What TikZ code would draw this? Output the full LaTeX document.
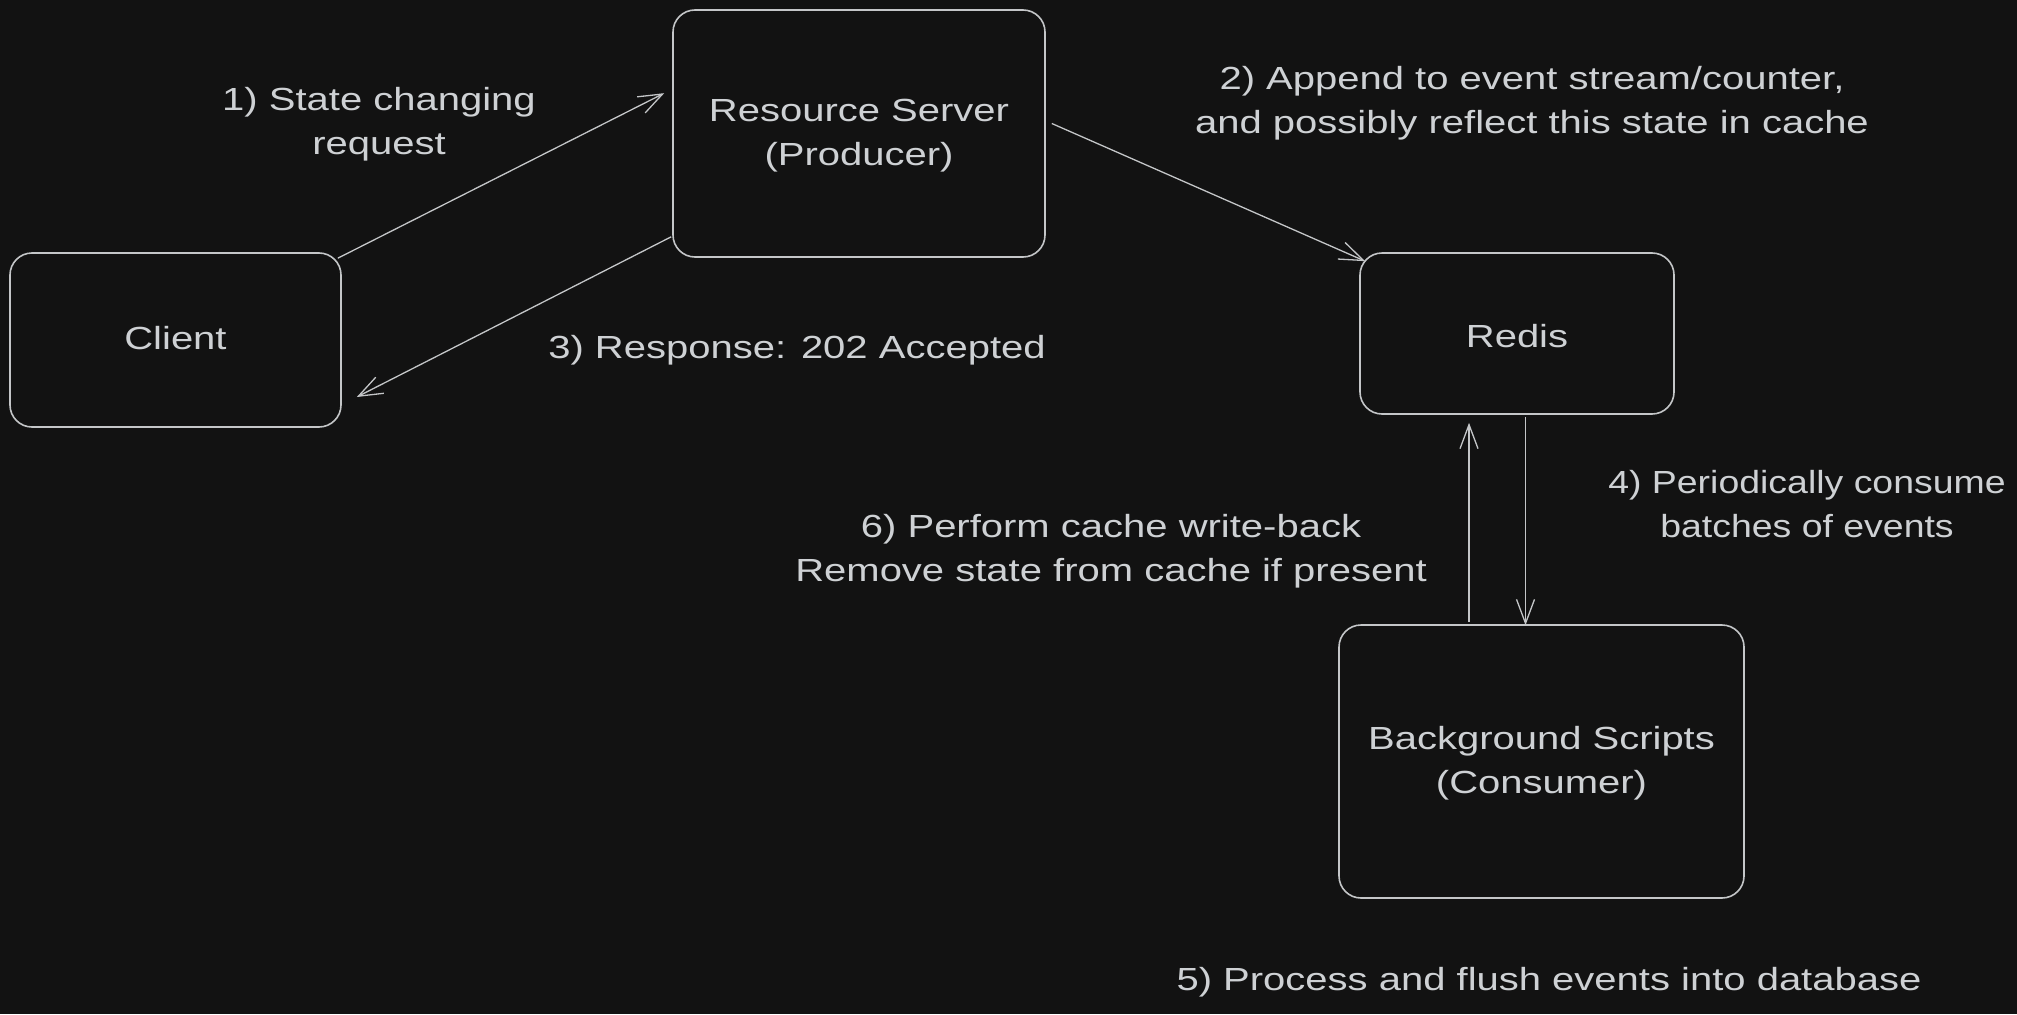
\documentclass[tikz,border=0pt]{standalone}
\usepackage{fontspec}
\setmainfont{Liberation Sans}[FakeStretch=1.25]
\newfontfamily\narrowfont{Liberation Sans}[FakeStretch=1.17]
\usetikzlibrary{arrows.meta,calc}
\definecolor{bgc}{RGB}{18,18,18}
\definecolor{fg}{RGB}{206,209,212}
\definecolor{ln}{RGB}{196,198,200}
\tikzset{
  box/.style={draw=ln, line width=1.6pt, rounded corners=22pt, fill=bgc, inner sep=0pt},
  lbl/.style={text=fg, align=center, inner sep=0pt, font=\fontsize{32pt}{44pt}\selectfont},
  conn/.style={draw=ln, line width=1.3pt, -{Straight Barb[length=24pt,width=18pt,line width=1.3pt]}}
}
\begin{document}
\begin{tikzpicture}[x=1pt,y=-1pt]
\fill[bgc] (0,0) rectangle (2017,1014);
\useasboundingbox (0,0) rectangle (2017,1014);
% boxes
\node[box, minimum width=331pt, minimum height=174pt] (client) at (175.5,340) {};
\node[box, minimum width=372pt, minimum height=247pt] (rs) at (859,133.5) {};
\node[box, minimum width=314pt, minimum height=161pt] (redis) at (1517,333.5) {};
\node[box, minimum width=405pt, minimum height=273pt] (bg) at (1541.5,761.5) {};
% box texts
\node[lbl] (clientt) at (175.5,338) {Client};
\node[lbl] (rst) at (859,136) {Resource Server\\(Producer)};
\node[lbl] (redist) at (1517,336) {Redis};
\node[lbl] (bgt) at (1541.5,763) {Background Scripts\\(Consumer)};
% connectors
\draw[conn] ($(client.north east)+(-4,6)$) coordinate (a1s) -- ($(rs.north west)+(-8,84)$) coordinate (a1e);
\draw[conn] ($(rs.south west)+(-1,-21)$) coordinate (a3s) -- ($(client.east)+(15,57)$) coordinate (a3e);
\draw[conn] ($(rs.east)+(6,-10)$) coordinate (a2s) -- ($(redis.north west)+(6,9)$) coordinate (a2e);
\draw[conn] ($(redis.south)+(8.5,2)$) coordinate (a4s) -- ($(bg.north)+(-16,1)$) coordinate (a4e);
\draw[conn] ($(bg.north)+(-72.5,-2)$) coordinate (a6s) -- ($(redis.south)+(-48,8)$) coordinate (a6e);
% labels
\node[lbl] (l1) at (379,124) {1) State changing\\request};
\node[lbl] (l3) at (797,350) {3) Response: 202 Accepted};
\node[lbl, font=\narrowfont\fontsize{32pt}{44pt}\selectfont] (l4) at (1807,504) {4) Periodically consume\\batches of events};
\node[lbl] (l2) at (1532,103) {2) Append to event stream/counter,\\and possibly reflect this state in cache};
\node[lbl] (l6) at (1111,551) {6) Perform cache write-back\\Remove state from cache if present};
\node[lbl] (l5) at (1549,982) {5) Process and flush events into database};
\end{tikzpicture}
\end{document}
